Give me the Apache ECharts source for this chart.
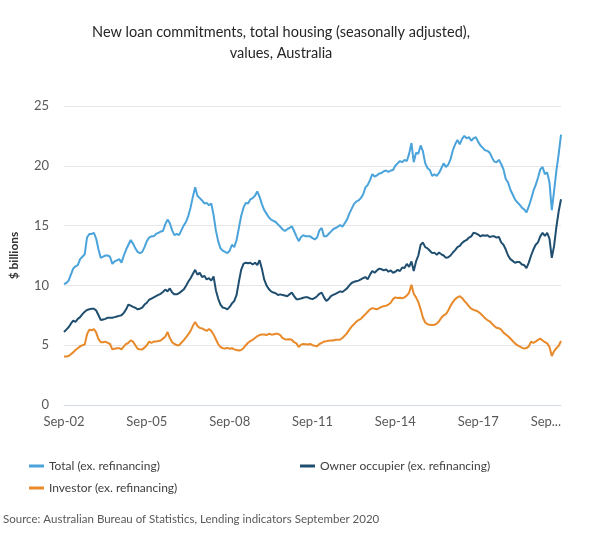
<!DOCTYPE html>
<html><head><meta charset="utf-8">
<script src="https://cdn.jsdelivr.net/npm/echarts@6/dist/echarts.min.js"></script>
<style>html,body{margin:0;padding:0;background:#fff;}#c{width:616px;height:537px;}</style>
</head><body><div id="c"></div>
<script>
const MONTH_NAMES = ['Jan','Feb','Mar','Apr','May','Jun','Jul','Aug','Sep','Oct','Nov','Dec'];
const categories = [];
for (let i = 0; i < 217; i++) {
  const k = 8 + i;
  categories.push(MONTH_NAMES[k % 12] + '-' + String((2002 + Math.floor(k / 12)) % 100).padStart(2, '0'));
}
const tickLabels = ['Sep-02','Sep-05','Sep-08','Sep-11','Sep-14','Sep-17','Sep...'];
const yTicks = [0, 5, 10, 15, 20, 25];

const total = [
10.1,10.2,10.4,10.9,11.4,11.6,11.7,12.2,12.4,12.6,
14.0,14.3,14.3,14.4,13.9,13.0,12.3,12.4,12.5,12.5,
12.4,11.8,12.0,12.1,12.2,11.9,12.5,13.0,13.4,13.8,
13.5,13.1,12.8,12.7,12.8,13.2,13.7,14.0,14.1,14.1,
14.3,14.4,14.5,14.55,15.1,15.5,15.2,14.6,14.2,14.3,
14.2,14.6,15.0,15.3,15.8,16.5,17.4,18.2,17.5,17.3,
17.1,16.85,16.9,16.7,16.85,15.9,14.6,13.7,13.1,12.9,
12.8,12.7,12.9,13.4,13.2,13.8,14.8,15.8,16.5,16.9,
16.85,17.2,17.3,17.5,17.85,17.4,16.8,16.3,16.0,15.7,
15.5,15.4,15.3,15.1,14.9,14.7,14.55,14.7,14.8,14.95,
14.55,14.1,13.7,14.05,14.2,14.1,14.1,14.1,13.95,13.85,
14.0,14.6,14.8,14.1,14.1,14.3,14.5,14.7,14.8,14.9,
15.05,14.9,15.2,15.5,16.0,16.4,16.8,17.0,17.1,17.3,
17.6,18.2,18.4,18.8,19.3,19.1,19.2,19.35,19.4,19.55,
19.6,19.5,19.6,19.65,20.0,20.2,20.4,20.3,20.5,20.4,
21.0,21.9,20.3,21.1,21.0,21.7,21.2,20.2,19.8,19.65,
19.15,19.3,19.15,19.4,19.8,20.2,19.9,20.1,20.55,21.3,
21.8,22.15,21.8,22.25,22.5,22.3,22.4,22.1,22.3,22.4,
22.0,21.7,21.5,21.3,21.25,21.1,20.7,20.35,20.3,20.5,
20.15,19.7,18.9,18.6,18.0,17.6,17.2,16.95,16.75,16.5,
16.35,16.1,16.6,17.2,17.9,18.4,19.0,19.7,19.9,19.3,
19.45,18.6,16.3,17.9,19.6,21.0,22.6
];
const ownerOccupier = [
6.1,6.3,6.5,6.8,7.05,6.95,7.2,7.35,7.6,7.8,
7.95,8.0,8.05,8.05,7.9,7.5,7.1,7.15,7.2,7.3,
7.3,7.3,7.35,7.4,7.45,7.5,7.7,8.0,8.4,8.3,
8.2,8.13,8.0,8.05,8.15,8.4,8.55,8.8,8.9,9.0,
9.1,9.2,9.3,9.45,9.65,9.5,9.75,9.4,9.25,9.25,
9.35,9.5,9.65,9.95,10.3,10.6,10.95,11.3,10.9,11.05,
10.7,10.8,10.5,10.6,10.4,10.75,9.6,8.9,8.4,8.15,
8.1,8.0,8.2,8.5,8.7,9.2,10.3,11.3,11.8,11.9,
11.85,11.9,11.75,11.9,11.7,12.1,11.4,10.5,10.0,9.7,
9.5,9.4,9.35,9.2,9.25,9.2,9.15,9.1,9.25,9.4,
9.1,8.85,8.85,8.9,8.97,9.02,9.0,8.9,8.85,8.95,
9.1,9.3,9.4,9.0,8.7,8.85,9.1,9.2,9.3,9.4,
9.5,9.45,9.6,9.75,10.0,10.2,10.3,10.35,10.4,10.5,
10.6,10.7,10.5,10.9,11.2,11.06,11.25,11.4,11.35,11.26,
11.34,11.14,11.26,11.06,11.14,11.3,11.2,11.5,11.45,11.8,
11.55,12.0,11.2,12.0,12.5,13.4,13.58,13.2,13.1,12.9,
12.7,12.74,12.55,12.75,12.6,12.5,12.3,12.35,12.5,12.75,
12.95,13.2,13.3,13.55,13.7,13.8,14.0,14.1,14.4,14.35,
14.25,14.1,14.2,14.15,14.2,14.05,14.1,14.1,14.0,14.05,
13.6,13.4,13.0,12.5,12.2,12.05,11.9,11.95,11.95,11.75,
11.7,11.45,11.9,12.5,13.0,13.4,13.6,14.1,14.4,14.13,
14.4,13.9,12.3,13.3,14.9,16.2,17.2
];
const investor = [
4.05,4.05,4.1,4.25,4.4,4.6,4.75,4.9,5.0,5.05,
5.9,6.3,6.25,6.35,6.05,5.5,5.25,5.25,5.3,5.2,
5.1,4.65,4.7,4.75,4.75,4.65,4.9,5.1,5.2,5.4,
5.3,5.0,4.7,4.65,4.65,4.8,5.0,5.3,5.2,5.3,
5.3,5.35,5.4,5.55,5.7,6.1,5.6,5.25,5.1,5.0,
5.0,5.2,5.4,5.65,5.9,6.2,6.6,6.95,6.6,6.45,
6.4,6.3,6.2,6.35,6.2,5.9,5.5,5.1,4.85,4.75,
4.72,4.78,4.7,4.75,4.65,4.6,4.55,4.6,4.75,5.0,
5.2,5.35,5.45,5.6,5.75,5.85,5.9,5.9,5.85,5.95,
5.9,5.9,5.95,5.95,5.85,5.6,5.5,5.47,5.5,5.45,
5.25,5.15,4.85,5.05,5.1,5.08,5.06,5.1,5.0,4.95,
4.92,5.1,5.2,5.3,5.33,5.38,5.39,5.4,5.45,5.45,
5.47,5.6,5.8,6.0,6.3,6.55,6.75,6.95,7.1,7.2,
7.4,7.6,7.8,8.0,8.1,8.05,8.0,8.1,8.2,8.27,
8.3,8.4,8.55,8.85,9.0,8.95,8.97,8.92,9.0,9.15,
9.4,10.05,9.3,9.0,8.6,8.0,7.3,6.9,6.75,6.7,
6.68,6.7,6.8,7.0,7.3,7.5,7.6,7.9,8.3,8.6,
8.85,9.0,9.1,8.95,8.7,8.5,8.25,8.05,7.95,7.9,
7.8,7.65,7.45,7.25,7.1,7.0,6.8,6.6,6.45,6.42,
6.3,6.05,5.9,5.75,5.56,5.35,5.15,5.0,4.9,4.8,
4.72,4.76,4.9,5.3,5.2,5.3,5.45,5.55,5.4,5.25,
5.15,4.85,4.1,4.5,4.75,4.95,5.35
];

const FONT = 'Lato';
const seriesNames = ['Total (ex. refinancing)', 'Owner occupier (ex. refinancing)', 'Investor (ex. refinancing)'];
const seriesColors = ['#4aa3da', '#1f4e6f', '#e8892a'];

const chart = echarts.init(document.getElementById('c'), null, {renderer: 'canvas'});
const legendBase = {
  orient: 'horizontal', icon: 'rect', itemWidth: 15, itemHeight: 3, itemGap: 0,
  textStyle: {fontFamily: FONT, fontSize: 12, color: '#404040'},
  selectedMode: false
};
chart.setOption({
  animation: false,
  backgroundColor: '#ffffff',
  graphic: [
    {type: 'text', x: 281, y: 25, style: {text: 'New loan commitments, total housing (seasonally adjusted),', fontFamily: FONT, fontSize: 14.5, fill: '#262626', align: 'center'}},
    {type: 'text', x: 281, y: 46, style: {text: 'values, Australia', fontFamily: FONT, fontSize: 14.5, fill: '#262626', align: 'center'}},
    {type: 'text', x: 3, y: 513, style: {text: 'Source: Australian Bureau of Statistics, Lending indicators September 2020', fontFamily: FONT, fontSize: 11.5, fill: '#595959'}}
  ],
  legend: [
    Object.assign({}, legendBase, {data: [seriesNames[0]], left: 24, top: 455}),
    Object.assign({}, legendBase, {data: [seriesNames[1]], left: 295, top: 455}),
    Object.assign({}, legendBase, {data: [seriesNames[2]], left: 24, top: 477})
  ],
  grid: {left: 63, right: 55, top: 106, bottom: 132, containLabel: false},
  xAxis: {
    type: 'category', data: categories, boundaryGap: false,
    axisLine: {show: true, lineStyle: {color: '#d3dbe5', width: 1}},
    axisTick: {show: false},
    splitLine: {show: false},
    axisLabel: {
      interval: function (idx) { return idx % 36 === 0; },
      formatter: function (val, idx) { return tickLabels[Math.round(idx / 36)]; },
      color: '#595959', fontFamily: FONT, fontSize: 13, margin: 10,
      alignMaxLabel: 'right'
    }
  },
  yAxis: {
    type: 'value', min: yTicks[0], max: yTicks[yTicks.length - 1], interval: 5,
    name: '$ billions', nameLocation: 'middle', nameGap: 44, nameRotate: 90,
    nameTextStyle: {fontFamily: FONT, fontSize: 12, color: '#333333', fontWeight: 'bold'},
    axisLine: {show: false}, axisTick: {show: false},
    axisLabel: {color: '#595959', fontFamily: FONT, fontSize: 13, margin: 15},
    splitLine: {lineStyle: {color: '#e6e6e6', width: 1}}
  },
  series: [
    {name: seriesNames[2], type: 'line', data: investor, showSymbol: false, symbol: 'none', lineStyle: {width: 2, color: seriesColors[2]}, itemStyle: {color: seriesColors[2]}, z: 3},
    {name: seriesNames[1], type: 'line', data: ownerOccupier, showSymbol: false, symbol: 'none', lineStyle: {width: 2, color: seriesColors[1]}, itemStyle: {color: seriesColors[1]}, z: 4},
    {name: seriesNames[0], type: 'line', data: total, showSymbol: false, symbol: 'none', lineStyle: {width: 2, color: seriesColors[0]}, itemStyle: {color: seriesColors[0]}, z: 5}
  ]
});
</script>
</body></html>
